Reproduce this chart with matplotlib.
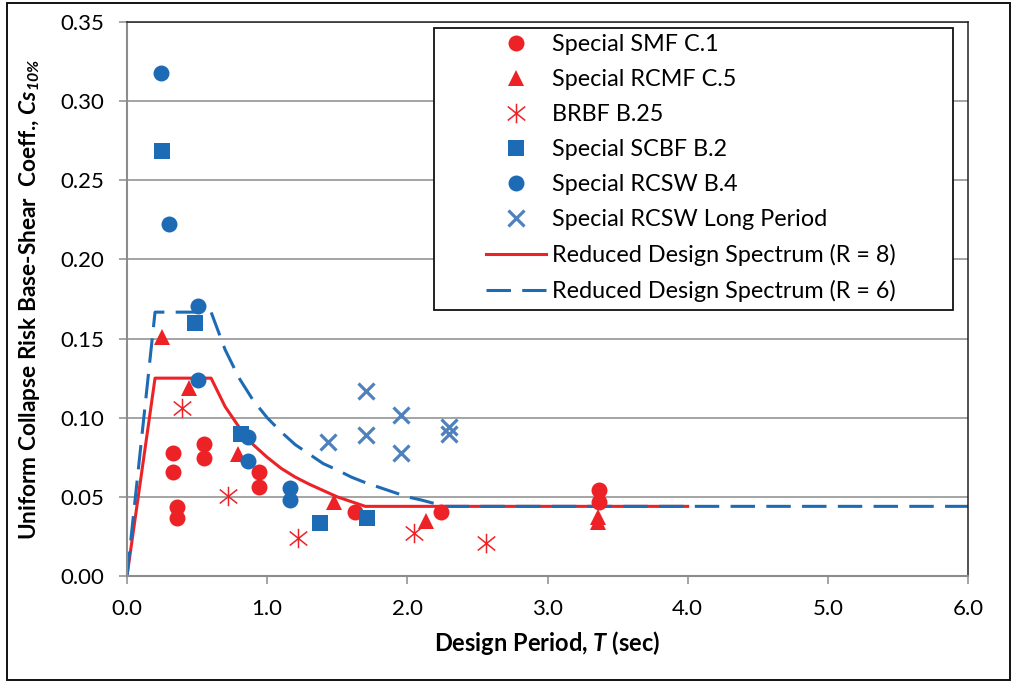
import matplotlib
matplotlib.use("Agg")
import matplotlib.pyplot as plt
from matplotlib.path import Path
from matplotlib.patches import Rectangle
from matplotlib.lines import Line2D

plt.rcParams["font.family"] = ["Lato", "DejaVu Sans"]
plt.rcParams["mathtext.fontset"] = "custom"
plt.rcParams["mathtext.rm"] = "Lato"
plt.rcParams["mathtext.it"] = "Lato:italic"
plt.rcParams["mathtext.bf"] = "Lato:bold"
plt.rcParams["mathtext.bfit"] = "Lato:bold:italic"

RED = "#ED2227"
BLUE = "#1E6BB5"
XBLUE = "#4F81BD"
GRID = "#8C8C8C"

# ---- data (T in sec, Cs) ----
smf_T = [0.33, 0.33, 0.36, 0.36, 0.55, 0.55, 0.94, 0.94, 1.63, 2.24, 3.37, 3.37]
smf_cs = [0.0776, 0.066, 0.0438, 0.0365, 0.0834, 0.0744, 0.0655, 0.0565, 0.0402, 0.0402, 0.0544, 0.047]

rcmf_T = [0.25, 0.44, 0.79, 1.48, 2.13, 3.36, 3.36]
rcmf_cs = [0.151, 0.119, 0.077, 0.047, 0.035, 0.037, 0.034]

brbf_T = [0.39, 0.72, 1.22, 2.05, 2.56]
brbf_cs = [0.106, 0.0506, 0.0242, 0.027, 0.021]

scbf_T = [0.25, 0.485, 0.81, 1.377, 1.71]
scbf_cs = [0.2688, 0.160, 0.090, 0.0337, 0.0365]

rcsw_T = [0.243, 0.30, 0.51, 0.51, 0.865, 0.865, 1.16, 1.16]
rcsw_cs = [0.3178, 0.2225, 0.1707, 0.1239, 0.088, 0.0729, 0.0558, 0.048]

long_T = [1.436, 1.705, 1.705, 1.954, 1.954, 2.30, 2.30]
long_cs = [0.0849, 0.117, 0.089, 0.1018, 0.0775, 0.0944, 0.090]

r8_T = [0, 0.2, 0.6, 0.7, 0.8, 0.9, 1.0, 1.1, 1.2, 1.3, 1.4, 1.5, 1.6, 1.7, 4.0]
r8_cs = [0, 0.125, 0.125, 0.107, 0.094, 0.083, 0.075, 0.068, 0.0625, 0.058, 0.054,
         0.050, 0.047, 0.044, 0.044]

r6_T = [0, 0.2, 0.6, 0.7, 0.8, 0.9, 1.0, 1.1, 1.2, 1.3, 1.4, 1.5, 1.6, 1.7, 1.8,
        1.9, 2.0, 2.1, 2.27, 6.0]
r6_cs = [0, 0.1667, 0.1667, 0.143, 0.125, 0.111, 0.100, 0.091, 0.083, 0.077, 0.071,
         0.067, 0.0625, 0.059, 0.056, 0.053, 0.050, 0.048, 0.044, 0.044]

labels = [
    "Special SMF C.1",
    "Special RCMF C.5",
    "BRBF B.25",
    "Special SCBF B.2",
    "Special RCSW B.4",
    "Special RCSW Long Period",
    "Reduced Design Spectrum (R = 8)",
    "Reduced Design Spectrum (R = 6)",
]

# six-armed asterisk like the Excel "star" marker
star = Path(
    [(0, -1), (0, 1), (-0.9, -0.72), (0.9, 0.72), (-0.9, 0.72), (0.9, -0.72)],
    [Path.MOVETO, Path.LINETO, Path.MOVETO, Path.LINETO, Path.MOVETO, Path.LINETO],
)

fig = plt.figure(figsize=(10.13, 6.86), dpi=100)
ax = fig.add_axes([127 / 1013, 1 - 576 / 686, 841 / 1013, 554 / 686])

ax.plot(r8_T, r8_cs, color=RED, lw=2.2, zorder=2)
ax.plot(r6_T, r6_cs, color=BLUE, lw=2.2, dashes=(8, 3.7), zorder=2.1)

mk = dict(ls="none", zorder=3)
ax.plot(smf_T, smf_cs, marker="o", ms=11.5, color=RED, mew=0, **mk)
ax.plot(rcmf_T, rcmf_cs, marker="^", ms=11, color=RED, mew=0, **mk)
ax.plot(brbf_T, brbf_cs, marker=star, ms=14, color=RED, mew=1.1, fillstyle="none", **mk)
ax.plot(scbf_T, scbf_cs, marker="s", ms=11.5, color=BLUE, mew=0, **mk)
ax.plot(rcsw_T, rcsw_cs, marker="o", ms=11.5, color=BLUE, mew=0, **mk)
ax.plot(long_T, long_cs, marker="x", ms=11, color=XBLUE, mew=2.3, **mk)

ax.set_xlim(0, 6)
ax.set_ylim(0, 0.35)
ax.set_xticks([0, 1, 2, 3, 4, 5, 6])
ax.set_xticklabels([f"{v:.1f}" for v in range(7)])
yt = [i * 0.05 for i in range(8)]
ax.set_yticks(yt)
ax.set_yticklabels([f"{v:.2f}" for v in yt])
ax.tick_params(axis="both", direction="out", length=5.5, width=1.1, color=GRID,
               labelsize=16, pad=11)
ax.grid(axis="y", color=GRID, lw=1.1)
ax.set_axisbelow(True)
for s in ("left", "bottom"):
    ax.spines[s].set_color(GRID)
    ax.spines[s].set_linewidth(1.5)
    ax.spines[s].set_zorder(2.5)
for s in ("top", "right"):
    ax.spines[s].set_color("#222222")
    ax.spines[s].set_linewidth(1.1)

ax.set_xlabel(r"Design Period, $\mathbfit{T}$ (sec)", fontsize=17, fontweight="bold", labelpad=7)
ax.set_ylabel(r"Uniform Collapse Risk Base-Shear  Coeff., $\mathbfit{Cs}_{\mathbfit{10\%}}$",
              fontsize=16.3, fontweight="bold", labelpad=13)

# legend box drawn separately so the empty left margin matches
ax.add_patch(Rectangle((0.365, 0.480), 0.617, 0.509, transform=ax.transAxes,
                       facecolor="white", edgecolor="#111111", lw=1.3, zorder=4, clip_on=False))
handles = [
    Line2D([], [], ls="none", marker="o", ms=11.5, color=RED, mew=0),
    Line2D([], [], ls="none", marker="^", ms=11, color=RED, mew=0),
    Line2D([], [], ls="none", marker=star, ms=14, color=RED, mew=1.1),
    Line2D([], [], ls="none", marker="s", ms=11.5, color=BLUE, mew=0),
    Line2D([], [], ls="none", marker="o", ms=11.5, color=BLUE, mew=0),
    Line2D([], [], ls="none", marker="x", ms=11, color=XBLUE, mew=2.3),
    Line2D([], [], color=RED, lw=2.2),
    Line2D([], [], color=BLUE, lw=2.2, dashes=(8, 3.7)),
]
leg = ax.legend(handles, labels, loc="upper left", bbox_to_anchor=(0.421, 0.987),
                frameon=False, fontsize=16.8, handlelength=2.6, handletextpad=0.25,
                labelspacing=0.6, borderpad=0.2, borderaxespad=0)
leg.set_zorder(5)

# outer chart frame
fig.add_artist(Rectangle((7 / 1013, 6 / 686), 1003 / 1013, 677 / 686,
                         transform=fig.transFigure, fill=False, edgecolor="#111111", lw=1.4))

fig.savefig("out.png", dpi=100)
